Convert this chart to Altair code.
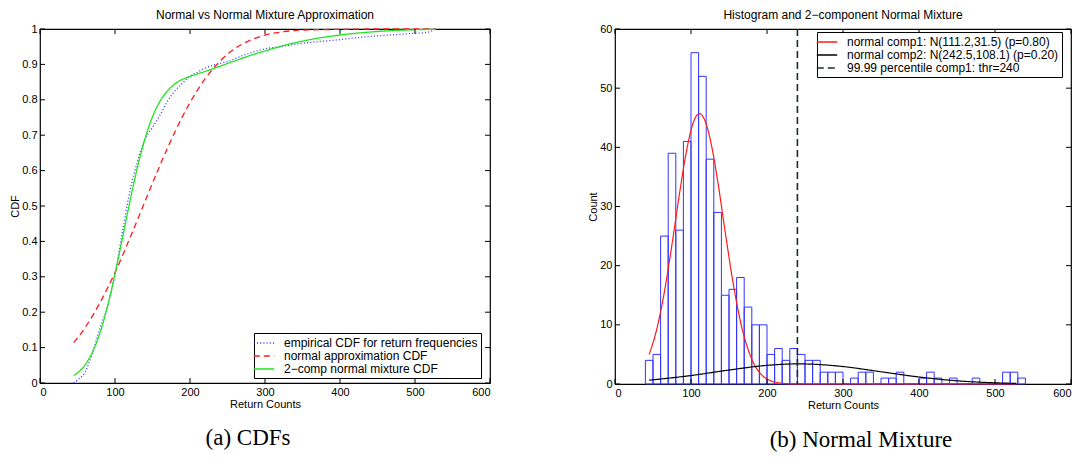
import altair as alt
import pandas as pd

# ---------------- panel (a): CDFs ----------------
ecdf_x = [45, 50, 60, 70, 80, 90, 100, 110, 120, 130, 140, 150, 160, 170, 180, 190, 200, 210, 220, 230,
          240, 250, 260, 270, 280, 290, 300, 320, 340, 360, 380, 400, 420, 440, 460, 480, 500, 515, 528]
ecdf_y = [0.0, 0.009, 0.03, 0.085, 0.155, 0.217, 0.306, 0.429, 0.543, 0.626, 0.689, 0.722, 0.757, 0.796,
          0.825, 0.847, 0.867, 0.878, 0.889, 0.897, 0.903, 0.908, 0.916, 0.925, 0.932, 0.939, 0.944, 0.95,
          0.957, 0.962, 0.966, 0.97, 0.975, 0.979, 0.982, 0.985, 0.988, 0.99, 1.0]

norm_x = [45, 60, 80, 100, 120, 140, 160, 180, 200, 220, 240, 260, 280, 300, 320, 350, 400, 450, 528]
norm_y = [0.114, 0.156, 0.227, 0.312, 0.41, 0.513, 0.615, 0.71, 0.792, 0.859, 0.909, 0.945, 0.968, 0.983,
          0.991, 0.997, 0.999, 1.0, 1.0]

mix_x = [45, 60, 75, 90, 100, 110, 120, 130, 140, 150, 160, 170, 180, 190, 200, 220, 240, 260, 280, 300,
         330, 360, 400, 450, 500, 528]
mix_y = [0.021, 0.051, 0.112, 0.216, 0.308, 0.41, 0.514, 0.61, 0.69, 0.752, 0.796, 0.825, 0.845, 0.858,
         0.866, 0.88, 0.895, 0.91, 0.925, 0.938, 0.956, 0.97, 0.983, 0.993, 0.998, 0.999]

cdf_labels = ["empirical CDF for return frequencies", "normal approximation CDF", "2\u2212comp normal mixture CDF"]

# ---------------- panel (b): histogram + mixture ----------------
bin_start = [40, 50, 60, 70, 80, 90, 100, 110, 120, 130, 140, 150, 160, 170, 180, 190, 200, 210, 220, 230,
             240, 250, 260, 270, 280, 290, 300, 310, 320, 330, 340, 350, 360, 370, 380, 390, 400, 410, 420, 430,
             440, 450, 460, 470, 480, 490, 500, 510, 520, 530]
hist_counts = [4, 5, 25, 39, 26, 41, 56, 52, 38, 29, 15, 16, 18, 13, 10, 10, 5, 6, 4, 6,
               5, 4, 4, 2, 2, 2, 0, 1, 2, 2, 0, 1, 1, 2, 0, 0, 1, 2, 1, 0,
               1, 0, 0, 1, 0, 0, 0, 2, 2, 1]
bin_width = 10

comp1_x = [45, 55, 65, 75, 85, 95, 103, 111, 119, 127, 135, 145, 155, 165, 175, 185, 195, 205, 215, 225,
           240, 260, 300, 400, 528]
comp1_y = [5.0, 9.3, 15.6, 23.6, 32.3, 40.0, 44.2, 45.7, 44.3, 40.3, 34.4, 25.7, 17.4, 10.6, 5.9, 2.9, 1.3,
           0.54, 0.2, 0.07, 0.01, 0, 0, 0, 0]
comp2_x = [45, 100, 150, 200, 242, 300, 350, 400, 450, 500, 528]
comp2_y = [0.64, 1.43, 2.36, 3.15, 3.4, 2.95, 2.07, 1.18, 0.54, 0.2, 0.1]
threshold = [240]

mix_labels = ["normal comp1: N(111.2,31.5) (p=0.80)", "normal comp2: N(242.5,108.1) (p=0.20)",
              "99.99 percentile comp1: thr=240"]

# ---------------- ticks, titles, captions ----------------
x_ticks = [0, 100, 200, 300, 400, 500, 600]
cdf_ticks = [0, 0.1, 0.2, 0.3, 0.4, 0.5, 0.6, 0.7, 0.8, 0.9, 1]
count_ticks = [0, 10, 20, 30, 40, 50, 60]
titles = ["Normal vs Normal Mixture Approximation", "Histogram and 2\u2212component Normal Mixture"]
captions = ["(a) CDFs", "(b) Normal Mixture"]
x_title = "Return Counts"

BLUE, RED, GREEN, DARK = "#3333ff", "#ff1a1a", "#1fe61f", "#1c2c2c"
SANS = "Liberation Sans"
SERIF = "Liberation Serif"

W1, H1 = 450, 354
W2, H2 = 456, 355


def inner_ticks(xvals, yvals, xs, ys, xax, yax, W, H, L=5):
    dx = pd.DataFrame({"v": xvals})
    dy = pd.DataFrame({"v": yvals})
    r = dict(color="black", strokeWidth=1)
    xb = alt.Chart(dx).mark_rule(**r).encode(x=alt.X("v:Q", scale=xs, axis=xax), y=alt.value(H), y2=alt.value(H - L))
    xt = alt.Chart(dx).mark_rule(**r).encode(x=alt.X("v:Q", scale=xs, axis=xax), y=alt.value(0), y2=alt.value(L))
    yl = alt.Chart(dy).mark_rule(**r).encode(y=alt.Y("v:Q", scale=ys, axis=yax), x=alt.value(0), x2=alt.value(L))
    yr = alt.Chart(dy).mark_rule(**r).encode(y=alt.Y("v:Q", scale=ys, axis=yax), x=alt.value(W), x2=alt.value(W - L))
    return [xb, xt, yl, yr]


def legend(x, y):
    return alt.Legend(title=None, orient="none", legendX=x, legendY=y, strokeColor="black",
                      fillColor="white", padding=3, symbolType="M-1.7,0L1.7,0", symbolSize=144,
                      symbolStrokeWidth=1.3, labelFontSize=12, labelFont=SANS, labelColor="black",
                      rowPadding=0, labelLimit=500, labelOffset=13, cornerRadius=0)


# ---- panel (a) ----
cdf_df = pd.concat([
    pd.DataFrame({"x": ecdf_x, "y": ecdf_y, "series": cdf_labels[0]}),
    pd.DataFrame({"x": norm_x, "y": norm_y, "series": cdf_labels[1]}),
    pd.DataFrame({"x": mix_x, "y": mix_y, "series": cdf_labels[2]}),
])
xs1 = alt.Scale(domain=[0, 600], nice=False, zero=False)
ys1 = alt.Scale(domain=[0, 1], nice=False, zero=False)
xax1 = alt.Axis(values=x_ticks, title=x_title, format="d")
yax1 = alt.Axis(values=cdf_ticks, format=".1~f", title="CDF")
leg1 = legend(214, 304)
lines1 = alt.Chart(cdf_df).mark_line(strokeWidth=1.3, interpolate="monotone").encode(
    x=alt.X("x:Q", scale=xs1, axis=xax1),
    y=alt.Y("y:Q", scale=ys1, axis=yax1),
    color=alt.Color("series:N", scale=alt.Scale(domain=cdf_labels, range=[BLUE, RED, GREEN]), legend=leg1),
    strokeDash=alt.StrokeDash("series:N", scale=alt.Scale(domain=cdf_labels, range=[[1, 2.2], [6, 4], [1, 0]]), legend=leg1),
)
cap1 = alt.Chart(pd.DataFrame({"t": [captions[0]]})).mark_text(font=SERIF, fontSize=23, color="black").encode(
    text="t:N", x=alt.value(208), y=alt.value(H1 + 55))
left = alt.layer(lines1, *inner_ticks(x_ticks, cdf_ticks, xs1, ys1, xax1, yax1, W1, H1), cap1).properties(
    width=W1, height=H1, title=alt.Title(titles[0]))

# ---- panel (b) ----
hist_df = pd.DataFrame({"start": bin_start, "end": [s + bin_width for s in bin_start], "count": hist_counts})
xs2 = alt.Scale(domain=[0, 600], nice=False, zero=False)
ys2 = alt.Scale(domain=[0, 60], nice=False, zero=False)
xax2 = alt.Axis(values=x_ticks, title=x_title, format="d")
yax2 = alt.Axis(values=count_ticks, title="Count", format="d")
bars = alt.Chart(hist_df).mark_rect(fill="white", fillOpacity=0, stroke=BLUE, strokeWidth=1).encode(
    x=alt.X("start:Q", scale=xs2, axis=xax2),
    x2="end:Q",
    y=alt.Y("count:Q", scale=ys2, axis=yax2),
    y2=alt.datum(0),
)
comp_df = pd.concat([
    pd.DataFrame({"x": comp1_x, "y": comp1_y, "series": mix_labels[0]}),
    pd.DataFrame({"x": comp2_x, "y": comp2_y, "series": mix_labels[1]}),
])
leg2 = legend(202, 3)
cscale = alt.Scale(domain=mix_labels, range=[RED, "black", DARK])
dscale = alt.Scale(domain=mix_labels, range=[[1, 0], [1, 0], [7, 4]])
curves = alt.Chart(comp_df).mark_line(strokeWidth=1.2, interpolate="monotone").encode(
    x=alt.X("x:Q", scale=xs2, axis=xax2),
    y=alt.Y("y:Q", scale=ys2, axis=yax2),
    color=alt.Color("series:N", scale=cscale, legend=leg2),
    strokeDash=alt.StrokeDash("series:N", scale=dscale, legend=leg2),
)
thr_df = pd.DataFrame({"thr": threshold, "series": [mix_labels[2]]})
thr_rule = alt.Chart(thr_df).mark_rule(strokeWidth=1.6).encode(
    x=alt.X("thr:Q", scale=xs2, axis=xax2),
    color=alt.Color("series:N", scale=cscale, legend=leg2),
    strokeDash=alt.StrokeDash("series:N", scale=dscale, legend=leg2),
)
cap2 = alt.Chart(pd.DataFrame({"t": [captions[1]]})).mark_text(font=SERIF, fontSize=23, color="black").encode(
    text="t:N", x=alt.value(246), y=alt.value(H2 + 56))
right = alt.layer(bars, curves, thr_rule, *inner_ticks(x_ticks, count_ticks, xs2, ys2, xax2, yax2, W2, H2), cap2).properties(
    width=W2, height=H2, title=alt.Title(titles[1]))

chart = alt.hconcat(left, right, spacing=95).resolve_scale(
    color="independent", strokeDash="independent", x="independent", y="independent"
).resolve_legend(color="independent", strokeDash="independent").properties(
    padding={"left": 1, "top": 0, "right": 0, "bottom": 0}
).configure(font=SANS).configure_view(stroke="black", strokeWidth=1.2).configure_axis(
    domain=False, ticks=False, grid=False, labelFont=SANS, labelFontSize=11, labelColor="black",
    titleFont=SANS, titleFontSize=11, titleFontWeight="normal", titleColor="black",
    labelPadding=3, titlePadding=1, labelOverlap=False
).configure_title(font=SANS, fontSize=12, fontWeight="normal", color="black", offset=1,
                  anchor="middle", frame="group")

chart.save("out.html", embed_options={"renderer": "svg", "actions": False})
